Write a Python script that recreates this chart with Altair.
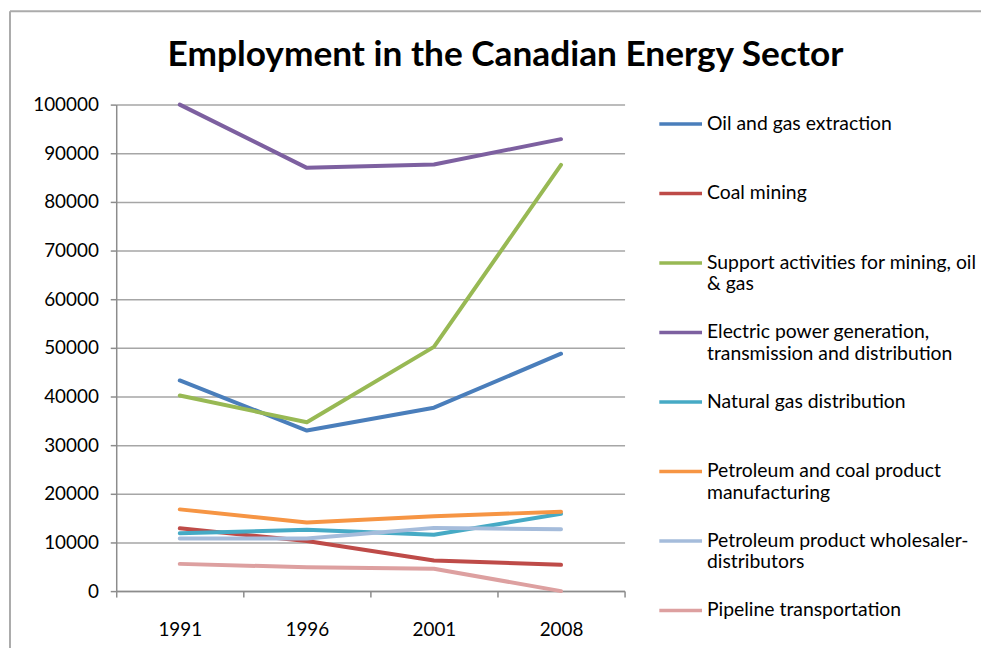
import altair as alt
import pandas as pd

years = ["1991", "1996", "2001", "2008"]

series_names = [
    "Oil and gas extraction",
    "Coal mining",
    "Support activities for mining, oil & gas",
    "Electric power generation, transmission and distribution",
    "Natural gas distribution",
    "Petroleum and coal product manufacturing",
    "Petroleum product wholesaler-distributors",
    "Pipeline transportation",
]

oil_gas = [43300, 33000, 37700, 48800]
coal = [12900, 10300, 6300, 5400]
support = [40200, 34700, 50200, 87600]
electric = [100000, 87000, 87700, 92900]
nat_gas = [11900, 12600, 11600, 15900]
petro_mfg = [16800, 14100, 15400, 16300]
wholesale = [10800, 10800, 13000, 12700]
pipeline = [5600, 4900, 4600, 0]

series_values = [oil_gas, coal, support, electric, nat_gas, petro_mfg, wholesale, pipeline]

colors = ["#4A7EBB", "#BE4B48", "#98B954", "#7D60A0", "#46AAC5", "#F69544", "#A5BCDB", "#DDA0A0"]

legend_lines = {
    "Support activities for mining, oil & gas": ["Support activities for mining, oil", "& gas"],
    "Electric power generation, transmission and distribution": ["Electric power generation,", "transmission and distribution"],
    "Petroleum and coal product manufacturing": ["Petroleum and coal product", "manufacturing"],
    "Petroleum product wholesaler-distributors": ["Petroleum product wholesaler-", "distributors"],
}

y_ticks = list(range(0, 100001, 10000))

rows = []
for name, vals in zip(series_names, series_values):
    for yr, v in zip(years, vals):
        rows.append({"Year": yr, "Employment": v, "Series": name})
df = pd.DataFrame(rows)

# legend label expression: wrapped labels, every entry two lines tall
expr = "[datum.label, ' ']"
for full, parts in reversed(list(legend_lines.items())):
    expr = "datum.label == '%s' ? ['%s', '%s'] : %s" % (full, parts[0], parts[1], expr)

FONT = "Lato"

lines = alt.Chart(df).mark_line(strokeWidth=4, strokeJoin="round", strokeCap="round").encode(
    x=alt.X("Year:N", sort=years, title=None,
            scale=alt.Scale(paddingInner=0, paddingOuter=0),
            axis=alt.Axis(labelAngle=0, tickBand="extent", tickSize=6, labelPadding=24,
                          labelFontSize=19, grid=False)),
    y=alt.Y("Employment:Q", title=None,
            scale=alt.Scale(domain=[0, 100000], nice=False),
            axis=alt.Axis(values=y_ticks, format="d", tickSize=6, labelPadding=12,
                          labelFontSize=19, grid=True)),
    color=alt.Color("Series:N", sort=series_names,
                    scale=alt.Scale(domain=series_names, range=colors),
                    legend=alt.Legend(title=None, orient="none", legendX=545, legendY=-4,
                                      symbolType="stroke", symbolSize=1849, symbolStrokeWidth=3.5,
                                      labelFontSize=19.5, labelFont=FONT, labelLimit=400,
                                      labelOffset=3, rowPadding=15, padding=0,
                                      labelExpr=expr)),
)

frame_df = pd.DataFrame({"k": [0]})
frame_top = alt.Chart(frame_df).mark_rule(color="#ABABAB", strokeWidth=2).encode(
    x=alt.value(-107), x2=alt.value(900), y=alt.value(-94)
)
frame_left = alt.Chart(frame_df).mark_rule(color="#ABABAB", strokeWidth=2).encode(
    x=alt.value(-107), y=alt.value(-94), y2=alt.value(700)
)

chart = alt.layer(frame_top, frame_left, lines).properties(
    width=512,
    height=490,
    autosize=alt.AutoSizeParams(type="none"),
    padding={"left": 109, "top": 95, "right": 359, "bottom": 55},
    title=alt.TitleParams("Employment in the Canadian Energy Sector", anchor="middle",
                          frame="group", dx=136, dy=64, offset=0, fontSize=35.5, font=FONT,
                          fontWeight="bold", color="black"),
).configure_view(stroke=None).configure_axis(
    labelFont=FONT, labelColor="black", domainColor="#8C8C8C", domainWidth=1.5,
    tickColor="#8C8C8C", tickWidth=1.5, gridColor="#A6A6A6", gridWidth=1.5,
).configure_legend(labelColor="black")

chart.save("out.html", embed_options={"renderer": "svg", "actions": False})
